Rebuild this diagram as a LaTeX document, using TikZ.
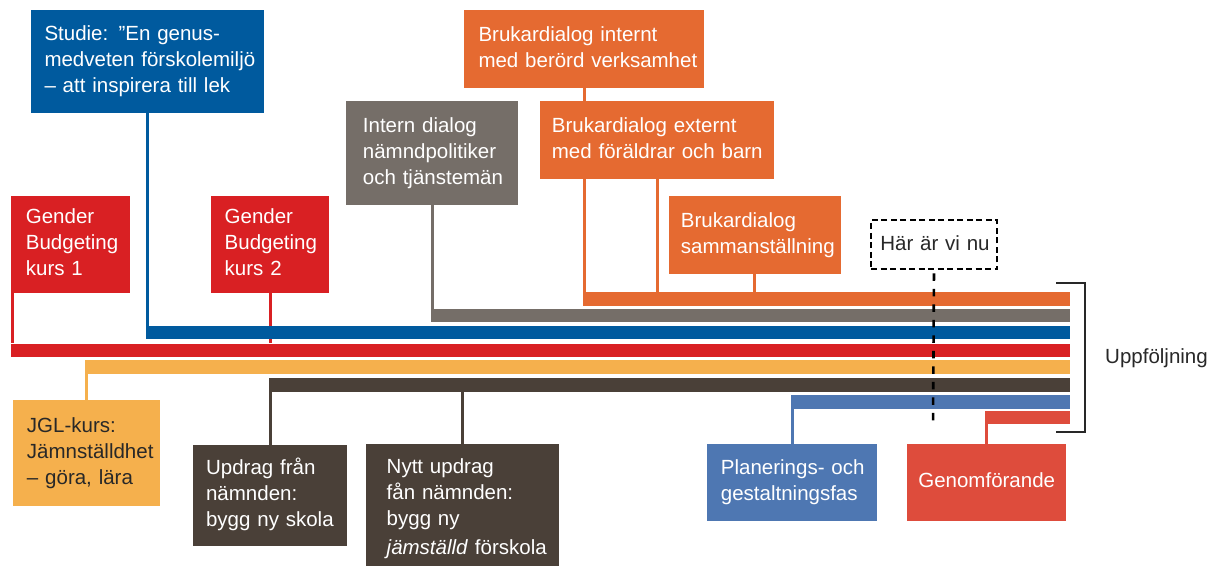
\documentclass[tikz,border=0pt]{standalone}
\usepackage{fontspec}
\setmainfont{Liberation Sans}
\definecolor{cblue}{RGB}{0,90,158}
\definecolor{cred}{RGB}{217,32,35}
\definecolor{corange}{RGB}{229,106,49}
\definecolor{cgrey}{RGB}{117,110,104}
\definecolor{cyellow}{RGB}{245,176,77}
\definecolor{cdark}{RGB}{74,64,56}
\definecolor{clblue}{RGB}{78,119,178}
\definecolor{cred2}{RGB}{222,76,60}
\definecolor{ctext}{RGB}{40,40,40}
\pgfdeclarelayer{background}
\pgfsetlayers{background,main}
\newcommand{\bxtext}[2]{\leftskip=#1pt\relax\strut #2\strut\par}
\tikzset{
  box/.style={rectangle, anchor=north west, inner sep=0pt, align=left, text=white,
    font=\fontsize{20.5}{26}\selectfont},
  bar/.style={rectangle, anchor=north west, inner sep=0pt, minimum height=13.5pt},
  conn/.style={line width=3pt},
  nowline/.style={line width=2.6pt, dash pattern=on 7.5pt off 8pt, dash phase=-3pt},
  bracket/.style={line width=2pt, draw=ctext},
}
\begin{document}
\begin{tikzpicture}[x=1pt,y=-1pt]
\useasboundingbox (0,0) rectangle (1210,565);
\begin{pgfonlayer}{background}
\fill[white] (0,0) rectangle (1210,565);
\end{pgfonlayer}
\clip (0,0) rectangle (1210,565);

% --- bars
\node[bar, fill=corange, minimum width=487.6pt] (obar) at (582.4,292) {};
\node[bar, fill=cgrey, minimum width=639.5pt] (gbar) at (430.5,308.5) {};
\node[bar, fill=cblue, minimum width=924pt] (bbar) at (146,325.5) {};
\node[bar, fill=cred, minimum width=1059pt] (rbar) at (11,343.3) {};
\node[bar, fill=cyellow, minimum width=985.5pt] (ybar) at (84.5,360) {};
\node[bar, fill=cdark, minimum width=801.5pt] (dbar) at (268.5,378) {};
\node[bar, fill=clblue, minimum width=279.5pt] (lbar) at (790.5,395) {};
\node[bar, fill=cred2, minimum width=85pt] (r2bar) at (985,410.5) {};

% --- boxes with text
\node[box, fill=cblue, text width=233pt, minimum height=102.7pt] (studie) at (31,10)
  {\bxtext{13.3}{Studie: ”En genus-\\medveten förskolemiljö\\– att inspirera till lek}};
\node[box, fill=cred, text width=118.7pt, minimum height=96.7pt] (gb1) at (11,196)
  {\bxtext{14.7}{Gender\\Budgeting\\kurs 1}};
\node[box, fill=cred, text width=118pt, minimum height=96.7pt] (gb2) at (211,196)
  {\bxtext{13.5}{Gender\\Budgeting\\kurs 2}};
\node[box, fill=corange, text width=239.7pt, minimum height=77.7pt] (bru1) at (464,10)
  {\bxtext{14.3}{Brukardialog internt\\med berörd verksamhet}};
\node[box, fill=cgrey, text width=172pt, minimum height=103.7pt] (intern) at (346,101)
  {\bxtext{16.7}{Intern dialog\\nämndpolitiker\\och tjänstemän}};
\node[box, fill=corange, text width=234pt, minimum height=77.7pt] (bru2) at (540,101)
  {\bxtext{11.7}{Brukardialog externt\\med föräldrar och barn}};
\node[box, fill=corange, text width=172.7pt, minimum height=77.3pt] (bru3) at (668.3,196)
  {\bxtext{12.4}{Brukardialog\\sammanställning}};
\node[box, fill=cyellow, text=ctext, text width=147.3pt, minimum height=106pt] (jgl) at (12.3,400)
  {\bxtext{14.5}{JGL-kurs:\\Jämnställdhet\\– göra, lära}};
\node[box, fill=cdark, text width=154.1pt, minimum height=100.7pt] (updrag) at (192.9,445)
  {\bxtext{13}{Updrag från\\nämnden:\\bygg ny skola}};
\node[box, fill=cdark, text width=193.1pt, minimum height=129.6pt] (nytt) at (365.9,444)
  {\bxtext{20.6}{Nytt updrag\\fån nämnden:\\bygg ny\\[3pt]\textit{jämställd} förskola}};
\node[box, fill=clblue, text width=170pt, minimum height=76.7pt] (plan) at (707,444)
  {\bxtext{13.7}{Planerings- och\\gestaltningsfas}};
\node[box, fill=cred2, text width=159pt, align=center, minimum height=76.7pt] (genom) at (907,444)
  {\strut Genomförande\strut};

% --- connectors (behind boxes)
\begin{pgfonlayer}{background}
\draw[conn, cblue] (studie.south) -- (studie.south |- bbar.north);
\draw[conn, cred] ([xshift=1.5pt]gb1.south west) -- ([xshift=1.5pt]rbar.north west);
\draw[conn, cred] (gb2.south) -- (gb2.south |- rbar.north);
\draw[conn, corange] (bru1.south) -- (bru1.south |- obar.north);
\draw[conn, corange] (bru2.south) -- (bru2.south |- obar.north);
\draw[conn, corange] (bru3.south) -- (bru3.south |- obar.north);
\draw[conn, cgrey] (intern.south) -- (intern.south |- gbar.north);
\draw[conn, cyellow] (jgl.north) -- (jgl.north |- ybar.south);
\draw[conn, cdark] (updrag.north) -- (updrag.north |- dbar.south);
\draw[conn, cdark] (nytt.north) -- (nytt.north |- dbar.south);
\draw[conn, clblue] (plan.north) -- (plan.north |- lbar.south);
\draw[conn, cred2] (genom.north) -- (genom.north |- r2bar.south);
\end{pgfonlayer}

% --- here we are
\node[box, text=ctext, draw=black, line width=2pt, dash pattern=on 6pt off 3.5pt,
  text width=126pt, minimum height=49pt] (har) at (870,219.3)
  {\bxtext{9.3}{Här är vi nu}};
\coordinate (nowend) at (933,426.7);
\draw[nowline] (har.south) -- (nowend);

% --- follow-up bracket
\coordinate (brtop) at (1056,282.7);
\coordinate (brbot) at (1056,432.3);
\draw[bracket] (brtop) -- (1085.3,282.7) -- (1085.3,432.3) -- (brbot);
\node[anchor=base west, inner sep=0pt, text=ctext, font=\fontsize{20.5}{26}\selectfont] (upp)
  at (1105,363.3) {Uppföljning};
\end{tikzpicture}
\end{document}
